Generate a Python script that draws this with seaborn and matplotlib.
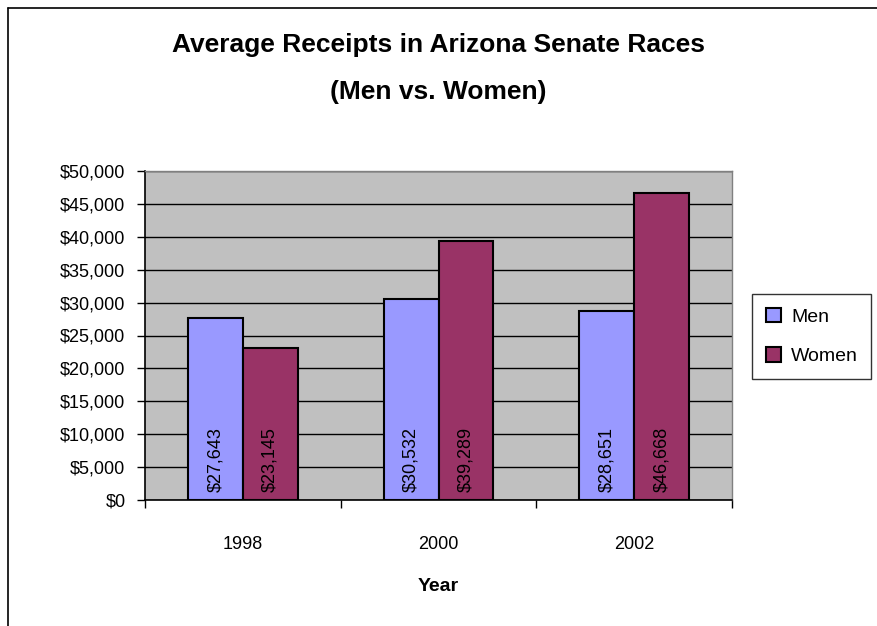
import matplotlib
matplotlib.use("Agg")
import matplotlib.pyplot as plt
import seaborn as sns
import pandas as pd
from matplotlib.lines import Line2D
from matplotlib.patches import Patch
from matplotlib.ticker import FuncFormatter, MultipleLocator

years = ["1998", "2000", "2002"]
men = [27643, 30532, 28651]
women = [23145, 39289, 46668]
series = ["Men", "Women"]
colors = ["#9999FF", "#993366"]

df = pd.DataFrame({
    "Year": years * 2,
    "Receipts": men + women,
    "Sex": ["Men"] * len(years) + ["Women"] * len(years),
})

sns.set_style("white")
plt.rcParams["font.family"] = ["Liberation Sans", "DejaVu Sans"]
plt.rcParams.update({
    "text.color": "black",
    "axes.labelcolor": "black",
    "xtick.color": "black",
    "ytick.color": "black",
})

fig = plt.figure(figsize=(8.77, 6.26), dpi=100)
ax = fig.add_axes([145 / 877, 1 - 500 / 626, (732 - 145) / 877, (500 - 171) / 626])
ax.set_facecolor("#C0C0C0")

sns.barplot(data=df, x="Year", y="Receipts", hue="Sex", hue_order=series,
            palette=colors, width=0.56, gap=0, edgecolor="black", linewidth=1.5,
            saturation=1, ax=ax, legend=False, zorder=3)

ax.set_ylim(0, 50000)
ax.set_xlim(-0.5, len(years) - 0.5)
ax.yaxis.set_major_locator(MultipleLocator(5000))
ax.yaxis.set_major_formatter(FuncFormatter(lambda v, _: f"${v:,.0f}"))
ax.grid(axis="y", color="black", linewidth=1, zorder=0)
ax.set_axisbelow(True)

# category separators drawn as outward ticks on the x axis
ax.set_xticks([i for i in range(len(years))])
ax.set_xticklabels(years)
ax.set_xticks([i - 0.5 for i in range(len(years) + 1)], minor=True)
ax.tick_params(axis="x", which="major", bottom=True, length=0, pad=26, labelsize=13)
ax.tick_params(axis="x", which="minor", bottom=True, length=6, width=1,
               color="black", direction="out")
ax.tick_params(axis="y", which="major", left=True, length=6, width=1,
               color="black", direction="out", labelsize=13, pad=8)

for side in ["left", "bottom"]:
    ax.spines[side].set_color("black")
    ax.spines[side].set_linewidth(1.2)
for side in ["top", "right"]:
    ax.spines[side].set_color("#808080")
    ax.spines[side].set_linewidth(1)

ax.set_xlabel("Year", fontsize=14, fontweight="bold", labelpad=18)
ax.set_ylabel("")

# value labels written upward from the base of each bar
for bar in ax.patches:
    h = bar.get_height()
    if h <= 0:
        continue
    ax.annotate(f"${h:,.0f}", xy=(bar.get_x() + bar.get_width() / 2, 0),
                xytext=(0, 6), textcoords="offset points", rotation=90,
                ha="center", va="bottom", fontsize=13, color="black", zorder=5)

fig.text(0.5, 1 - 45 / 626, "Average Receipts in Arizona Senate Races",
         ha="center", va="center", fontsize=19, fontweight="bold")
fig.text(0.5, 1 - 92 / 626, "(Men vs. Women)",
         ha="center", va="center", fontsize=19, fontweight="bold")

handles = [Patch(facecolor=c, edgecolor="black", linewidth=1.5) for c in colors]
leg = fig.legend(handles, series, loc="upper left",
                 bbox_to_anchor=(752 / 877, 1 - 294 / 626), frameon=True,
                 fancybox=False, edgecolor="black", fontsize=14,
                 handlelength=0.8, handleheight=0.8, handletextpad=0.5,
                 labelspacing=1.1, borderpad=0.7, borderaxespad=0)
leg.get_frame().set_linewidth(1)

# outer chart border
fig.add_artist(Line2D([8 / 877, 8 / 877], [0, 1 - 8 / 626], color="black", linewidth=1.2,
                      transform=fig.transFigure))
fig.add_artist(Line2D([8 / 877, 1], [1 - 8 / 626, 1 - 8 / 626], color="black", linewidth=1.2,
                      transform=fig.transFigure))

fig.savefig("out.png", dpi=100)
